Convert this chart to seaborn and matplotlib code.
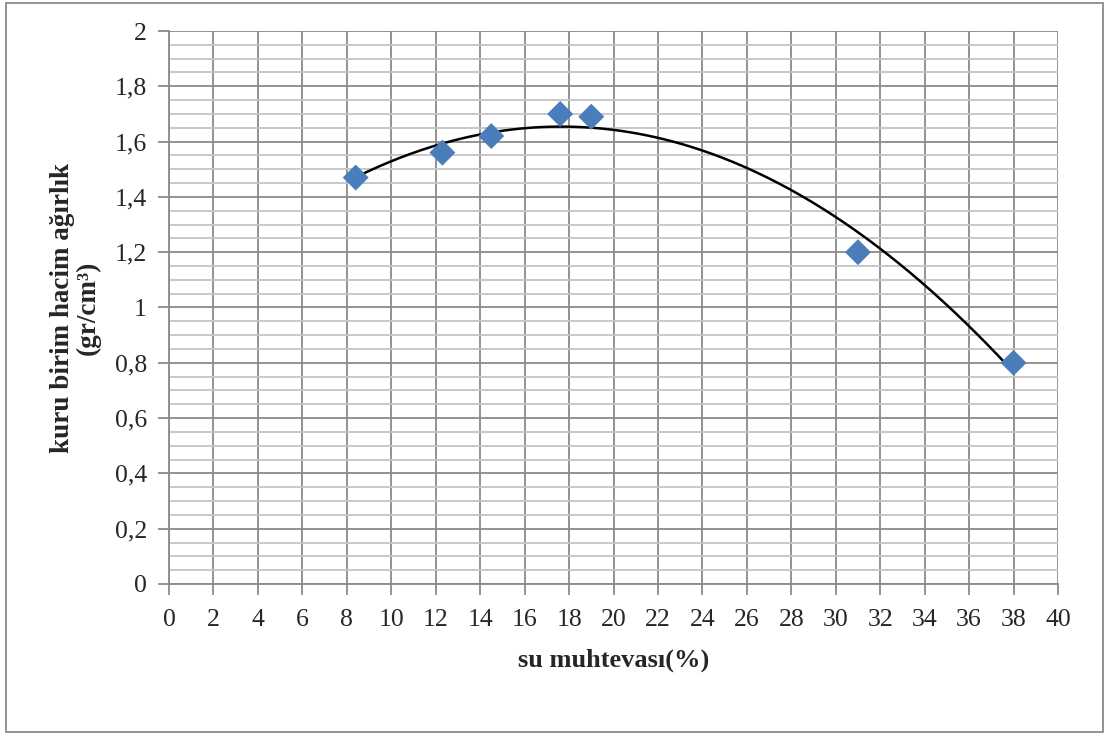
import numpy as np
import pandas as pd
import seaborn as sns
import matplotlib
matplotlib.use("Agg")
import matplotlib.pyplot as plt
from matplotlib.ticker import MultipleLocator, FuncFormatter
from matplotlib.patches import Rectangle

# Compaction test results
water_content = [8.4, 12.3, 14.5, 17.6, 19.0, 31.0, 38.0]
dry_density = [1.47, 1.56, 1.62, 1.70, 1.69, 1.20, 0.80]

df = pd.DataFrame({"su muhtevası(%)": water_content,
                   "kuru birim hacim ağırlık": dry_density})

sns.set_theme(style="white")
plt.rcParams["font.family"] = ["Liberation Serif", "DejaVu Serif"]

fig = plt.figure(figsize=(11.07, 7.35), dpi=100)
ax = fig.add_axes([169 / 1107, 1 - 584 / 735, (1058 - 169) / 1107, (584 - 31) / 735])

# second-order polynomial trendline
coef = np.polyfit(df.iloc[:, 0], df.iloc[:, 1], 2)
xs = np.linspace(min(water_content), max(water_content), 300)
trend = pd.DataFrame({"x": xs, "y": np.polyval(coef, xs)})
sns.lineplot(data=trend, x="x", y="y", ax=ax, color="black", linewidth=1.8, zorder=3)

sns.scatterplot(data=df, x="su muhtevası(%)", y="kuru birim hacim ağırlık", ax=ax,
                marker="D", s=175, color="#4a7ebb", edgecolor="none", zorder=4)

ax.set_xlim(0, 40)
ax.set_ylim(0, 2)
ax.xaxis.set_major_locator(MultipleLocator(2))
ax.yaxis.set_major_locator(MultipleLocator(0.2))
ax.yaxis.set_minor_locator(MultipleLocator(0.05))

fmt = FuncFormatter(lambda v, p: f"{v:g}".replace(".", ","))
ax.xaxis.set_major_formatter(fmt)
ax.yaxis.set_major_formatter(fmt)

ax.grid(which="major", axis="both", color="#8a8a8a", linewidth=1.3)
ax.grid(which="minor", axis="y", color="#c4c4c4", linewidth=1.3)
ax.set_axisbelow(True)

for side in ["top", "right"]:
    ax.spines[side].set_visible(False)
for side in ["left", "bottom"]:
    ax.spines[side].set_color("#8a8a8a")
    ax.spines[side].set_linewidth(1.3)

ax.tick_params(axis="both", which="major", direction="out", length=8, width=1.3,
               color="#8a8a8a", labelsize=18.5, left=True, bottom=True)
ax.tick_params(axis="x", which="major", pad=10)
ax.tick_params(axis="y", which="major", pad=8)
ax.tick_params(axis="y", which="minor", length=0)

ax.set_xlabel("su muhtevası(%)", fontsize=19, fontweight="bold", labelpad=13)
ax.set_ylabel("kuru birim hacim ağırlık\n(gr/cm³)", fontsize=19.5,
              fontweight="bold", labelpad=10, linespacing=1.05)

# outer chart frame
fig.patches.append(Rectangle((6 / 1107, 3 / 735), 1097 / 1107, 729 / 735,
                             transform=fig.transFigure, fill=False,
                             edgecolor="#8a8a8a", linewidth=1.3))

fig.savefig("out.png", dpi=100)
